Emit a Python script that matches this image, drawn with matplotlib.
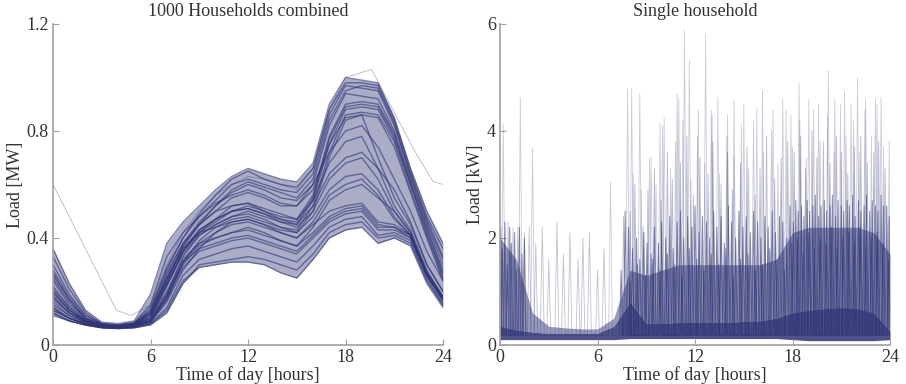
import numpy as np
import matplotlib
matplotlib.use("Agg")
import matplotlib.pyplot as plt

plt.rcParams['font.family'] = ['Liberation Serif', 'DejaVu Serif']

navy = '#2f3475'
hours = list(range(25))

# left panel: daily load profiles of 1000 households combined [MW], one value per hour
high_days = [
    [0.36,0.23,0.13,0.085,0.08,0.09,0.19,0.38,0.46,0.52,0.58,0.63,0.66,0.64,0.62,0.61,0.68,0.90,1.00,0.99,0.98,0.85,0.66,0.50,0.38],
    [0.30,0.19,0.11,0.08,0.075,0.085,0.15,0.33,0.42,0.48,0.54,0.60,0.62,0.60,0.58,0.57,0.64,0.86,0.97,0.96,0.95,0.82,0.64,0.47,0.33],
    [0.25,0.16,0.10,0.075,0.072,0.08,0.13,0.27,0.38,0.45,0.50,0.55,0.57,0.55,0.52,0.52,0.60,0.82,0.94,0.93,0.92,0.80,0.62,0.45,0.30],
    [0.20,0.13,0.09,0.072,0.07,0.078,0.12,0.25,0.36,0.43,0.47,0.52,0.53,0.50,0.48,0.47,0.56,0.78,0.90,0.91,0.90,0.79,0.61,0.44,0.28],
    [0.17,0.12,0.085,0.07,0.068,0.075,0.10,0.22,0.34,0.41,0.45,0.48,0.50,0.48,0.46,0.45,0.54,0.75,0.88,0.89,0.88,0.77,0.60,0.43,0.27],
    [0.14,0.10,0.08,0.068,0.066,0.072,0.09,0.18,0.31,0.39,0.44,0.47,0.48,0.46,0.44,0.43,0.52,0.72,0.86,0.87,0.86,0.76,0.58,0.41,0.25],
    [0.33,0.21,0.12,0.08,0.075,0.08,0.12,0.24,0.37,0.45,0.52,0.58,0.61,0.59,0.57,0.55,0.62,0.84,0.95,0.97,0.96,0.83,0.63,0.46,0.32],
    [0.12,0.09,0.075,0.065,0.063,0.07,0.085,0.16,0.28,0.36,0.42,0.46,0.47,0.45,0.43,0.42,0.50,0.70,0.84,0.86,0.85,0.74,0.57,0.40,0.24],
    [0.27,0.17,0.10,0.077,0.072,0.082,0.14,0.29,0.40,0.49,0.56,0.62,0.65,0.62,0.60,0.59,0.66,0.88,0.98,0.98,0.97,0.84,0.65,0.48,0.36],
    [0.19,0.13,0.09,0.071,0.069,0.076,0.11,0.23,0.35,0.42,0.46,0.50,0.51,0.49,0.47,0.46,0.55,0.77,0.89,0.90,0.89,0.78,0.60,0.42,0.26],
]
mid_days = [
    [0.28,0.18,0.11,0.078,0.07,0.08,0.13,0.28,0.40,0.48,0.53,0.56,0.58,0.56,0.53,0.52,0.58,0.75,0.85,0.86,0.70,0.55,0.45,0.30,0.20],
    [0.22,0.14,0.095,0.073,0.068,0.075,0.11,0.24,0.37,0.45,0.50,0.52,0.53,0.51,0.49,0.47,0.54,0.68,0.76,0.78,0.66,0.52,0.43,0.28,0.18],
    [0.18,0.12,0.088,0.07,0.066,0.072,0.10,0.22,0.35,0.43,0.47,0.50,0.51,0.49,0.46,0.44,0.50,0.62,0.68,0.70,0.62,0.50,0.42,0.27,0.18],
    [0.15,0.11,0.082,0.068,0.065,0.07,0.09,0.19,0.33,0.41,0.45,0.48,0.49,0.47,0.44,0.42,0.48,0.58,0.63,0.64,0.58,0.48,0.41,0.26,0.17],
    [0.26,0.17,0.10,0.075,0.07,0.078,0.12,0.26,0.38,0.46,0.52,0.57,0.60,0.58,0.55,0.54,0.60,0.72,0.80,0.82,0.74,0.62,0.50,0.35,0.24],
    [0.13,0.10,0.078,0.066,0.064,0.068,0.085,0.17,0.31,0.38,0.42,0.45,0.46,0.44,0.42,0.40,0.46,0.56,0.60,0.62,0.56,0.47,0.41,0.26,0.17],
    [0.14,0.10,0.08,0.067,0.064,0.07,0.09,0.18,0.30,0.37,0.40,0.42,0.43,0.41,0.39,0.37,0.44,0.54,0.58,0.60,0.55,0.50,0.42,0.27,0.17],
    [0.21,0.14,0.092,0.072,0.068,0.075,0.11,0.23,0.35,0.42,0.47,0.50,0.52,0.50,0.47,0.45,0.52,0.64,0.70,0.72,0.66,0.58,0.46,0.30,0.20],
]
low_days = [
    [0.20,0.13,0.09,0.072,0.068,0.074,0.10,0.20,0.32,0.38,0.40,0.42,0.44,0.42,0.39,0.37,0.42,0.48,0.51,0.52,0.45,0.44,0.41,0.27,0.17],
    [0.16,0.11,0.085,0.07,0.066,0.07,0.09,0.17,0.29,0.35,0.37,0.39,0.40,0.38,0.36,0.34,0.40,0.46,0.49,0.50,0.43,0.43,0.40,0.26,0.16],
    [0.13,0.10,0.078,0.066,0.063,0.066,0.08,0.14,0.26,0.32,0.34,0.36,0.37,0.35,0.33,0.31,0.37,0.44,0.47,0.48,0.41,0.42,0.39,0.25,0.15],
    [0.11,0.09,0.074,0.064,0.061,0.064,0.075,0.12,0.23,0.30,0.31,0.32,0.33,0.32,0.30,0.28,0.34,0.42,0.45,0.46,0.40,0.41,0.38,0.24,0.15],
    [0.12,0.09,0.075,0.065,0.062,0.065,0.078,0.13,0.24,0.29,0.30,0.31,0.31,0.30,0.27,0.25,0.32,0.40,0.43,0.44,0.38,0.40,0.37,0.23,0.14],
    [0.18,0.12,0.088,0.07,0.067,0.072,0.095,0.19,0.31,0.36,0.38,0.40,0.41,0.39,0.37,0.35,0.41,0.47,0.50,0.51,0.44,0.44,0.40,0.26,0.17],
    [0.24,0.15,0.10,0.074,0.07,0.076,0.12,0.25,0.36,0.42,0.44,0.46,0.47,0.45,0.42,0.40,0.45,0.50,0.52,0.53,0.46,0.45,0.41,0.27,0.18],
]
# the one odd day
odd_hours = [0,3.9,4.8,6,7,8,9,10,11,12,13,14,15,16,17,18,19.6,22.3,23.4,24]
odd_load = [0.6,0.13,0.11,0.15,0.3,0.42,0.5,0.56,0.6,0.63,0.62,0.6,0.58,0.66,0.88,1.0,1.03,0.72,0.61,0.6]

# right panel: single household [kW]
floor_lo = [0.10,0.10,0.10,0.10,0.10,0.10,0.10,0.10,0.12,0.12,0.12,0.12,0.12,0.12,0.12,0.12,0.12,0.12,0.10,0.08,0.08,0.08,0.08,0.08,0.10]
floor_hi = [0.35,0.28,0.24,0.22,0.22,0.22,0.22,0.35,0.80,0.40,0.40,0.42,0.42,0.42,0.42,0.44,0.45,0.50,0.60,0.65,0.68,0.70,0.68,0.60,0.25]
dense_top = [2.0,1.6,0.6,0.35,0.32,0.30,0.30,0.5,1.4,1.3,1.4,1.5,1.5,1.5,1.5,1.5,1.5,1.6,2.1,2.2,2.2,2.2,2.2,2.1,1.7]
tall_hours = [0.2,1.25,2.0,6.8,7.85,8.1,8.6,9.3,9.85,10.1,10.9,11.0,11.35,11.65,12.2,12.65,13.0,13.4,14.0,14.4,15.0,15.6,16.15,16.8,17.4,17.9,18.4,19.0,19.6,20.2,20.6,21.2,21.6,22.0,22.5,23.1,23.45,23.95]
tall_loads = [4.13,4.62,3.68,3.04,4.79,4.79,4.7,3.5,4.16,4.26,4.68,4.6,5.87,5.32,4.4,5.81,4.4,4.63,4.3,4.57,4.5,4.2,4.76,4.4,4.6,4.3,4.9,4.6,4.5,5.12,4.6,4.74,4.5,5.0,4.6,4.6,4.63,3.82]
upper_hours = [8.2,8.7,9.2,9.6,10.0,10.5,10.8,11.25,11.75,12.15,12.6,13.05,13.5,13.95,14.4,14.85,15.3,15.8,16.2,16.7,17.1,17.6,18.0,
               18.45,18.85,19.3,19.7,20.15,20.55,20.95,21.3,21.75,22.1,22.45,22.85,23.2,23.6]
upper_loads = [3.2,2.9,3.5,3.0,4.1,3.3,3.8,4.2,3.1,3.9,3.4,4.3,3.2,3.9,3.5,4.1,3.3,4.4,3.6,4.0,3.4,4.4,3.7,
               4.2,3.5,4.4,3.8,4.3,3.6,4.5,3.9,4.2,3.6,4.4,3.9,4.5,3.7]
night_hours = [0.5,0.8,1.1,1.5,1.8,2.2,2.6,3.0,3.5,3.9,4.3,4.8,5.1,5.5,6.0,6.4]
night_loads = [2.3,2.2,2.2,2.1,2.2,1.9,2.2,1.6,2.3,1.7,2.1,1.6,2.0,2.1,1.4,1.8]
mid_hours = [7.6,8.0,8.3,8.8,9.1,9.5,9.9,10.3,10.6,11.1,11.5,11.9,12.3,12.8,13.1,13.6,14.0,14.3,14.8,15.2,15.7,16.0,16.4,16.9,17.3,17.7,18.1,18.5,18.8,19.2,19.5,19.9,20.3,20.7,21.0,21.4,21.8,22.2,22.6,23.0,23.3,23.7]
mid_loads = [2.4,2.5,3.0,2.2,2.9,3.3,2.7,3.6,3.1,3.4,3.9,2.8,3.5,3.2,3.8,3.0,3.6,2.9,3.4,3.7,2.8,3.3,3.9,3.1,3.5,3.8,3.6,3.9,3.3,4.0,3.5,3.8,3.4,3.9,3.6,3.2,3.7,3.9,3.4,3.6,3.8,3.3]
early_hours = [0.05,0.15,0.3,0.45,0.6,0.7,0.9,1.0,1.2,1.35,1.5]
early_loads = [2.2,1.8,2.3,1.5,2.2,1.9,2.1,1.4,2.2,1.7,2.0]
busy_hours = [7.45,7.7,7.9,8.15,8.4,8.6,8.85,9.05,9.3,9.5,9.75,9.95,10.2,10.45,10.65,10.9,11.1,11.3,11.55,11.8,
              12.0,12.25,12.45,12.7,12.9,13.15,13.35,13.6,13.8,14.05,14.25,14.5,14.7,14.95,15.15,15.4,15.6,15.85,16.05,16.3,
              16.5,16.75,16.95,17.2,17.4,17.65,17.85,18.05,18.2,18.35,18.55,18.7,18.9,19.05,19.25,19.4,19.6,19.75,19.95,20.1,
              20.3,20.45,20.65,20.8,21.0,21.15,21.35,21.5,21.7,21.85,22.05,22.2,22.4,22.55,22.75,22.9,23.1,23.25,23.45,23.6,23.8,23.95]
busy_loads = [1.4,2.5,2.2,1.8,2.0,1.6,2.1,1.9,1.7,2.2,1.9,2.3,2.0,2.4,1.8,2.3,2.5,2.0,2.4,2.2,
              2.6,2.1,2.4,2.3,2.0,2.5,2.2,2.4,1.9,2.6,2.3,2.0,2.5,2.2,2.4,2.1,2.5,2.3,2.0,2.4,
              2.2,2.5,2.1,2.4,2.3,2.0,2.6,2.3,2.7,2.5,2.6,2.4,2.7,2.5,2.6,2.8,2.4,2.6,2.7,2.5,
              2.6,2.8,2.4,2.7,2.6,2.5,2.7,2.6,2.8,2.4,2.7,2.5,2.6,2.8,2.5,2.7,2.6,2.5,2.8,2.6,2.6,2.4]
low_hours = [8.0,8.45,8.95,9.4,9.85,10.3,10.75,11.2,11.65,12.1,12.55,13.0,13.45,13.9,14.35,14.8,15.25,15.7,16.15,16.6,
             17.05,17.5,17.95,18.3,18.65,19.0,19.35,19.7,20.05,20.4,20.75,21.1,21.45,21.8,22.15,22.5,22.85,23.2,23.55,23.9]
low_loads = [1.2,1.5,1.3,1.6,1.4,1.7,1.5,1.3,1.8,1.6,1.4,1.7,1.5,1.8,1.3,1.6,1.7,1.4,1.5,1.8,
             1.6,1.4,1.9,2.0,1.7,2.1,1.8,2.0,1.9,2.2,1.8,2.0,2.1,1.9,2.2,1.8,2.0,2.1,1.9,1.6]


def spikes(h, v, base=0.18, w=0.12):
    # turn a list of peaks into a polyline that goes up and back down
    xs, ys = [], []
    for a, b in zip(h, v):
        xs += [max(a - w, 0), a, min(a + w, 24)]
        ys += [base, b, base]
    return xs, ys


def style(ax, ymax, yticks, ylabel):
    for s in ['top', 'right']:
        ax.spines[s].set_visible(False)
    for s in ['left', 'bottom']:
        ax.spines[s].set_color('#a0a0a0')
        ax.spines[s].set_linewidth(1.2)
    ax.set_xlim(0, 24)
    ax.set_ylim(0, ymax)
    ax.set_xticks([0, 6, 12, 18, 24])
    ax.set_yticks(yticks)
    ax.tick_params(direction='in', length=4, color='#a0a0a0', labelsize=13, labelcolor='#333333', pad=3)
    ax.set_xlabel('Time of day [hours]', fontsize=13, color='#333333', labelpad=0)
    ax.set_ylabel(ylabel, fontsize=13, color='#333333', labelpad=2)


fig = plt.figure(figsize=(9.06, 3.84), dpi=100)

ax1 = fig.add_axes([0.0585, 0.1016, 0.4305, 0.836])
all_days = np.array(high_days + mid_days + low_days)
ax1.fill_between(hours, all_days.min(axis=0), all_days.max(axis=0), color=navy, alpha=0.4, lw=0)
for d in high_days + mid_days + low_days:
    ax1.plot(hours, d, color=navy, lw=1.0, alpha=0.6)
ax1.plot(odd_hours, odd_load, color=navy, lw=0.6, alpha=0.35)
style(ax1, 1.2, [0, 0.4, 0.8, 1.2], 'Load [MW]')
ax1.set_yticklabels(['0', '0.4', '0.8', '1.2'])
ax1.set_title('1000 Households combined', fontsize=13, color='#333333', pad=6)

ax2 = fig.add_axes([0.5519, 0.1016, 0.4305, 0.836])
ax2.fill_between(hours, floor_hi, dense_top, color=navy, alpha=0.5, lw=0)
ax2.fill_between(hours, floor_lo, floor_hi, color=navy, alpha=0.85, lw=0)
x, y = spikes(tall_hours, tall_loads)
ax2.plot(x, y, color=navy, lw=0.6, alpha=0.25)
x, y = spikes(upper_hours, upper_loads, w=0.1)
ax2.plot(x, y, color=navy, lw=0.6, alpha=0.25)
x, y = spikes(night_hours, night_loads)
ax2.plot(x, y, color=navy, lw=0.6, alpha=0.3)
x, y = spikes(mid_hours, mid_loads, w=0.1)
ax2.plot(x, y, color=navy, lw=0.6, alpha=0.35)
x, y = spikes(early_hours, early_loads, w=0.08)
ax2.plot(x, y, color=navy, lw=0.7, alpha=0.6)
x, y = spikes(busy_hours, busy_loads, w=0.1)
ax2.plot(x, y, color=navy, lw=0.7, alpha=0.6)
x, y = spikes(low_hours, low_loads, w=0.1)
ax2.plot(x, y, color=navy, lw=0.7, alpha=0.6)
style(ax2, 6, [0, 2, 4, 6], 'Load [kW]')
ax2.set_title('Single household', fontsize=13, color='#333333', pad=6)

plt.savefig('out.png', dpi=100)
